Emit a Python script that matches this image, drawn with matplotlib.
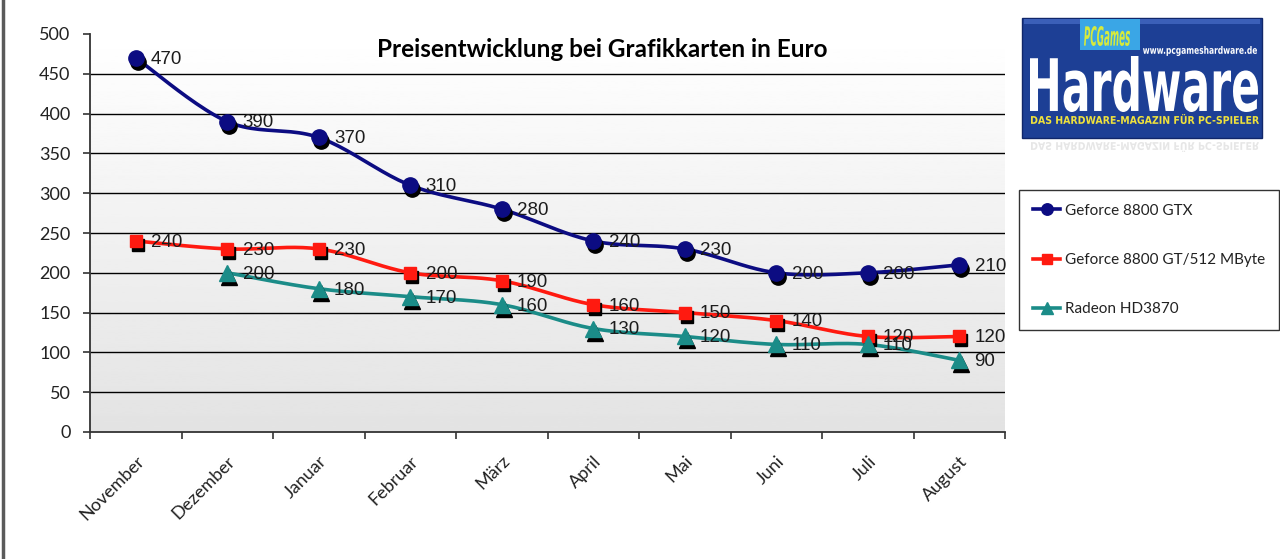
import numpy as np
import matplotlib
matplotlib.use('Agg')
import matplotlib.pyplot as plt
import matplotlib.transforms as mtransforms
from matplotlib.lines import Line2D
from matplotlib.patches import Rectangle, PathPatch
from matplotlib.textpath import TextPath
from matplotlib.font_manager import FontProperties

# data
months = ['November', 'Dezember', 'Januar', 'Februar', 'März',
          'April', 'Mai', 'Juni', 'Juli', 'August']
gtx = [470, 390, 370, 310, 280, 240, 230, 200, 200, 210]
gt512 = [240, 230, 230, 200, 190, 160, 150, 140, 120, 120]
hd3870 = [None, 200, 180, 170, 160, 130, 120, 110, 110, 90]
series_names = ['Geforce 8800 GTX', 'Geforce 8800 GT/512 MByte', 'Radeon HD3870']
title = 'Preisentwicklung bei Grafikkarten in Euro'

W, H = 1280, 559
CAL = 'Lato'      # stand-in for Calibri
ARIAL = 'Liberation Sans'


def smooth(xs, ys, n=24):
    # excel-like smoothed line (catmull-rom bezier through the points)
    P = np.column_stack([xs, ys]).astype(float)
    out = [P[0]]
    for i in range(len(P) - 1):
        p0 = P[i - 1] if i > 0 else P[i]
        p1, p2 = P[i], P[i + 1]
        p3 = P[i + 2] if i + 2 < len(P) else P[i + 1]
        c1 = p1 + (p2 - p0) / 6
        c2 = p2 - (p3 - p1) / 6
        t = np.linspace(0, 1, n)[1:, None]
        seg = ((1 - t) ** 3) * p1 + 3 * ((1 - t) ** 2) * t * c1 + 3 * (1 - t) * t ** 2 * c2 + t ** 3 * p2
        out.extend(seg)
    out = np.array(out)
    return out[:, 0], out[:, 1]


def fit_text(fig, s, x0, y0, x1, y1, color, weight='bold', style='normal',
             family='DejaVu Sans', alpha=1.0, flip=False):
    # text squeezed into a pixel box (y measured from the top)
    tp = TextPath((0, 0), s, size=10, prop=FontProperties(family=family, weight=weight, style=style))
    bb = tp.get_extents()
    sx = (x1 - x0) / bb.width
    sy = (y1 - y0) / bb.height
    if flip:
        tr = mtransforms.Affine2D().translate(-bb.x0, -bb.y0).scale(sx, -sy).translate(x0, H - y0)
    else:
        tr = mtransforms.Affine2D().translate(-bb.x0, -bb.y0).scale(sx, sy).translate(x0, H - y1)
    fig.add_artist(PathPatch(tr.transform_path(tp), fc=color, ec='none', lw=0, alpha=alpha,
                             transform=mtransforms.IdentityTransform()))


def draw_logo(fig):
    def px_rect(x0, y0, x1, y1, **kw):
        fig.add_artist(Rectangle((x0 / W, 1 - y1 / H), (x1 - x0) / W, (y1 - y0) / H,
                                 transform=fig.transFigure, **kw))
    px_rect(1022, 18, 1262, 138, fc='#1d3f95', ec='#10266a', lw=1.0)
    px_rect(1024, 19, 1260, 24, fc='#3b5fb8', ec='none')
    px_rect(1080, 19, 1140, 50, fc='#3aa6e6', ec='none')
    fit_text(fig, 'PCGames', 1084, 26, 1130, 46, '#d6ea3c', style='italic')
    fit_text(fig, 'www.pcgameshardware.de', 1143, 46, 1257, 56, 'white')
    fit_text(fig, 'Hardware', 1030, 56, 1258, 112, 'white')
    fit_text(fig, 'DAS HARDWARE-MAGAZIN FÜR PC-SPIELER', 1031, 114, 1259, 124, '#f0e23c')
    # faint mirror below the logo
    fit_text(fig, 'DAS HARDWARE-MAGAZIN FÜR PC-SPIELER', 1031, 142, 1259, 152, '#b8b8b8',
             alpha=0.35, flip=True)


fig = plt.figure(figsize=(W / 100, H / 100), dpi=100)
fig.patch.set_facecolor('white')
ax = fig.add_axes([90 / W, 1 - 432 / H, (1005 - 90) / W, (432 - 34) / H])

x = np.arange(len(months))
ax.set_xlim(-0.5, len(months) - 0.5)
ax.set_ylim(0, 500)

# gradient plot area
grad = np.linspace(0.89, 1.0, 256)[:, None]
ax.imshow(grad, extent=(-0.5, len(months) - 0.5, 0, 500), origin='lower', aspect='auto',
          cmap='gray', vmin=0, vmax=1, zorder=0)

yt = np.arange(0, 501, 50)
ax.hlines(yt[1:-1], -0.5, len(months) - 0.5, color='black', lw=1.0, zorder=1)

ax.set_yticks(yt)
ax.set_yticklabels([str(v) for v in yt], fontfamily=CAL, fontsize=13, color='#222222')
ax.set_xticks(np.arange(-0.5, len(months)), minor=False)
ax.set_xticklabels([])
ax.set_xticks(x, minor=True)
ax.set_xticklabels(months, minor=True, rotation=45, ha='right', rotation_mode='anchor',
                   fontfamily=CAL, fontsize=13, color='#222222')
ax.tick_params(axis='x', which='minor', length=0, pad=15)
ax.tick_params(axis='x', which='major', length=5, width=1.2, direction='out', color='#333333')
ax.tick_params(axis='y', length=5, width=1.2, direction='out', color='#333333', pad=9)
for side in ['top', 'right']:
    ax.spines[side].set_visible(False)
for side in ['left', 'bottom']:
    ax.spines[side].set_color('#333333')
    ax.spines[side].set_linewidth(1.3)

shadow = mtransforms.offset_copy(ax.transData, fig=fig, x=2, y=-4, units='dots')

styles = [
    (gtx, '#0c0c82', 'o', 11),
    (gt512, '#ff1a10', 's', 9),
    (hd3870, '#1b8c88', '^', 11),
]
handles = []
for (vals, col, mk, ms), name in zip(styles, series_names):
    xs = np.array([i for i, v in enumerate(vals) if v is not None])
    ys = np.array([v for v in vals if v is not None], dtype=float)
    sx, sy = smooth(xs, ys)
    ax.plot(sx, sy, color=col, lw=2.6, zorder=3, solid_capstyle='round')
    ax.plot(xs, ys, ls='none', marker=mk, ms=ms, color='black', mec='black', zorder=3.5,
            transform=shadow)
    ax.plot(xs, ys, ls='none', marker=mk, ms=ms, color=col, mec=col, zorder=4)
    for xi, yi in zip(xs, ys):
        ax.annotate(f'{yi:.0f}', (xi, yi), xytext=(11, -1), textcoords='offset points',
                    va='center', ha='left', fontfamily=ARIAL, fontsize=13.5, color='#1c1c1c',
                    zorder=5)
    handles.append(Line2D([], [], color=col, lw=2.6, marker=mk, ms=ms * 0.75, mec=col))

ax.set_title(title, fontfamily=CAL, fontweight='bold', fontsize=17.5, color='black',
             x=(602 - 90) / (1005 - 90), y=0.94, va='center')

leg = fig.legend(handles, series_names, loc='upper left', bbox_to_anchor=(1019 / W, 1 - 190 / H),
                 prop=FontProperties(family=CAL, size=11), frameon=True, fancybox=False,
                 handlelength=1.8, handletextpad=0.3, labelspacing=2.3, borderpad=0.9,
                 borderaxespad=0)
leg.get_frame().set_edgecolor('black')
leg.get_frame().set_linewidth(1.0)
leg._legend_box.sep = 0
for t in leg.get_texts():
    t.set_color('#222222')

draw_logo(fig)

# outer frame on the left
fig.add_artist(Line2D([2.5 / W, 2.5 / W], [0, 1], transform=fig.transFigure, color='#5a5a5a', lw=2.5))

fig.savefig('out.png', dpi=100)
